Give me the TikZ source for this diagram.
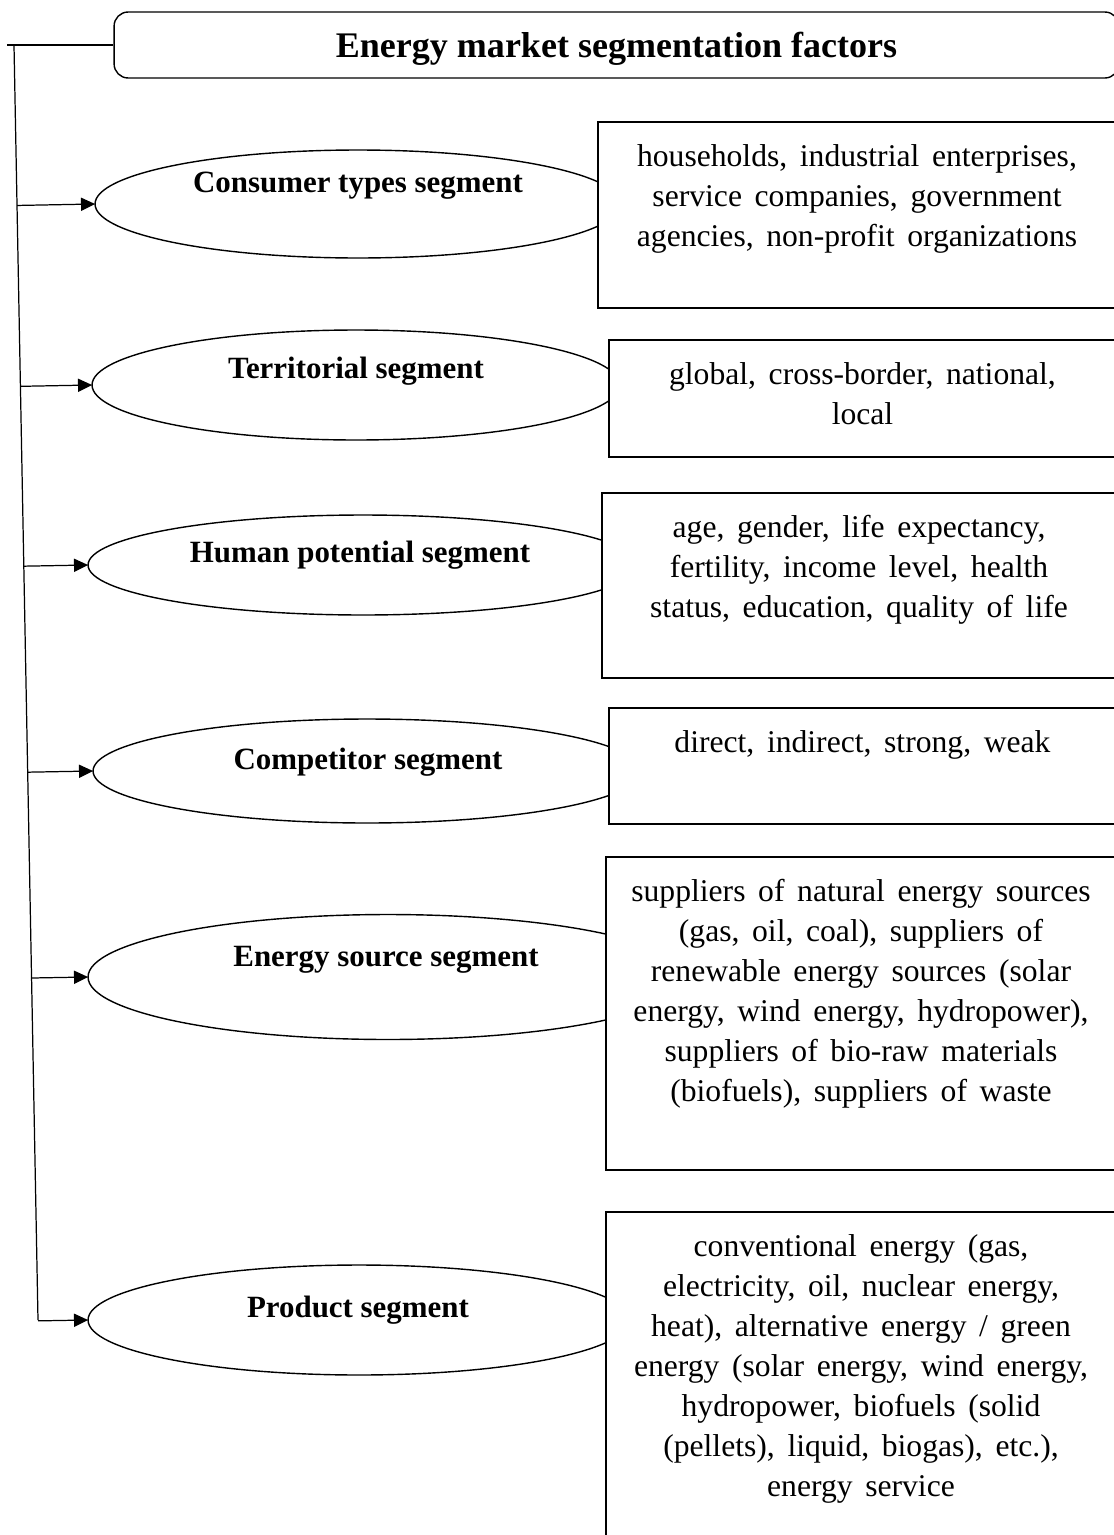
\documentclass[tikz,border=0pt]{standalone}
\usepackage{fontspec}
\setmainfont{Liberation Serif}
\usetikzlibrary{shapes.geometric, arrows.meta, calc}
\newcommand{\boxfont}{\fontsize{18}{22.8}\selectfont\spaceskip=0.4em plus 0.1em\relax}
\tikzset{
	seg-ell/.style={draw, ellipse, line width=0.8pt, inner sep=0pt, outer sep=0pt},
	seg-lab/.style={font=\fontsize{17.6}{20}\selectfont\bfseries, inner sep=0pt},
	info-box/.style={draw, fill=white, rectangle, line width=0.8pt, anchor=north west, inner sep=0pt, outer sep=0pt},
	info-txt/.style={anchor=north, align=center, font=\boxfont, inner sep=0pt},
	feed/.style={-{Triangle[length=8pt,width=7.5pt]}, line width=0.7pt}
}
% #1 name, #2 left, #3 top, #4 height (px), #5 text
\newcommand{\segbox}[5]{
	\node [info-box, minimum width={(1122-#2)*0.02cm}, minimum height={#4*0.02cm}] (#1) at (#2,#3) {};
	\node [info-txt] (#1-txt) at ($(#1.north)+(-3,22)$) {#5};
}

\begin{document}
\begin{tikzpicture}[x=0.02cm, y=-0.02cm]
\useasboundingbox (0,0) rectangle (1113,1535);

% title
\node [draw, rounded corners=8pt, line width=0.8pt, minimum width=20.1cm, minimum height=1.32cm, text depth=0pt, font=\fontsize{20.5}{24}\selectfont\bfseries] (title) at (616.5,45) {Energy market segmentation factors};

% segments
\node [seg-ell, minimum width=10.52cm, minimum height=2.16cm] (e1) at (358,204) {};
\node [seg-ell, minimum width=10.56cm, minimum height=2.2cm] (e2) at (356,385) {};
\node [seg-ell, minimum width=11cm, minimum height=2cm] (e3) at (363,565) {};
\node [seg-ell, minimum width=10.96cm, minimum height=2.08cm] (e4) at (367,771) {};
\node [seg-ell, minimum width=12cm, minimum height=2.5cm] (e5) at (388,977) {};
\node [seg-ell, minimum width=10.84cm, minimum height=2.2cm] (e6) at (359,1320) {};

\node [seg-lab] (l1) at (358,186) {Consumer types segment};
\node [seg-lab] (l2) at (356,371) {Territorial segment};
\node [seg-lab] (l3) at (360,555) {Human potential segment};
\node [seg-lab] (l4) at (368,762) {Competitor segment};
\node [seg-lab] (l5) at (386,960) {Energy source segment};
\node [seg-lab] (l6) at (358,1310) {Product segment};

% details
\segbox{b1}{598}{122}{186}{households, industrial enterprises,\\ service companies, government\\ agencies, non-profit organizations}
\segbox{b2}{609}{340}{117}{global, cross-border, national,\\ local}
\segbox{b3}{602}{493}{185}{age, gender, life expectancy,\\ fertility, income level, health\\ status, education, quality of life}
\segbox{b4}{609}{708}{116}{direct, indirect, strong, weak}
\segbox{b5}{606}{857}{313}{suppliers of natural energy sources\\ (gas, oil, coal), suppliers of\\ renewable energy sources (solar\\ energy, wind energy, hydropower),\\ suppliers of bio-raw materials\\ (biofuels), suppliers of waste}
\segbox{b6}{606}{1212}{345}{conventional energy (gas,\\ electricity, oil, nuclear energy,\\ heat), alternative energy / green\\ energy (solar energy, wind energy,\\ hydropower, biofuels (solid\\ (pellets), liquid, biogas), etc.),\\ energy service}

% trunk
\coordinate (t-left) at (7,45);
\coordinate (t-top) at (14,45);
\coordinate (t-bot) at (38,1320);
\draw [line width=0.7pt] (t-left) -- (title.west);
\draw [line width=0.7pt] (t-top) -- (t-bot);
\foreach \e in {e1,e2,e3,e4,e5,e6}
	\draw [feed] ($(t-top)!(\e.west)!(t-bot)$) -- (\e.west);
\end{tikzpicture}
\end{document}
